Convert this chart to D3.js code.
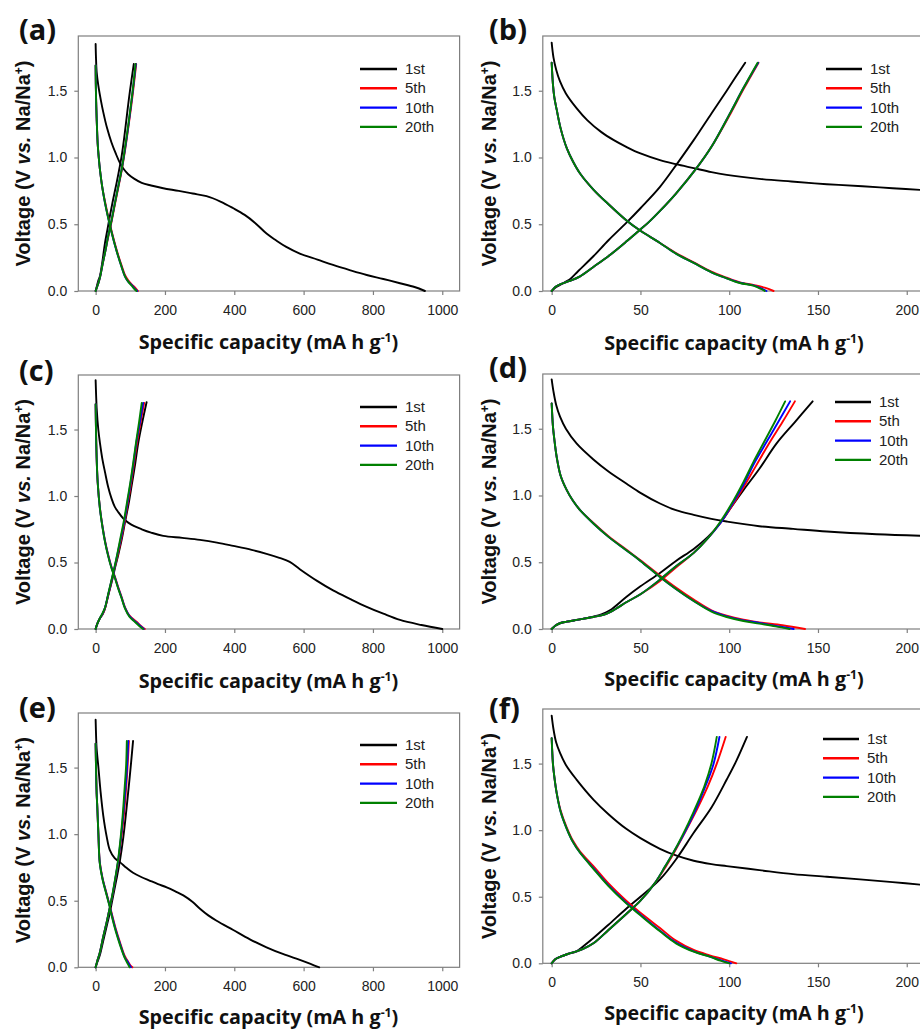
<!DOCTYPE html>
<html><head><meta charset="utf-8">
<script src="https://cdn.jsdelivr.net/npm/d3@7"></script>
<style>body{margin:0;background:#fff}svg{display:block}</style>
</head><body>
<svg id="chart" width="920" height="1030"></svg>
<script>
// ---------- DATA (capacity mA h g-1, voltage V) ----------
const cycleNames = ["1st", "5th", "10th", "20th"];
const cycleColors = ["#000000", "#ff0000", "#0000ff", "#008000"];
const leftTicks = [0, 200, 400, 600, 800, 1000];
const rightTicks = [0, 50, 100, 150, 200];
const voltTicks = [0, 0.5, 1.0, 1.5];

// panel (a)
const a_dis1 = [[0,1.85],[1,1.75],[3,1.64],[7.7,1.54],[15,1.43],[22,1.34],[33,1.22],[46,1.11],[58,1.03],[70,0.96],[82,0.91],[94,0.875],[112,0.84],[133,0.81],[160,0.79],[195,0.77],[240,0.75],[280,0.73],[320,0.71],[360,0.67],[397,0.62],[430,0.57],[460,0.51],[493,0.43],[520,0.38],[550,0.33],[589,0.28],[640,0.235],[685,0.195],[735,0.155],[782,0.12],[830,0.09],[878,0.058],[920,0.03],[950,0]];
const a_chg1 = [[0,0],[4,0.04],[8,0.08],[12.4,0.11],[20,0.23],[27,0.36],[34,0.46],[41,0.56],[50,0.68],[60.5,0.81],[68,0.91],[75,1.01],[82,1.14],[89,1.29],[96,1.44],[104,1.59],[110,1.7]];
const a_dis5 = [[0,1.69],[0.5,1.55],[1.5,1.42],[3,1.29],[6,1.1],[9,1.0],[12.4,0.91],[19,0.78],[27,0.67],[36,0.56],[46,0.45],[55,0.36],[65,0.27],[75,0.19],[84.5,0.12],[94,0.08],[104,0.05],[114,0.025],[122,0]];
const a_chg5 = [[0,0],[4,0.03],[8,0.06],[12.4,0.1],[20,0.2],[28,0.3],[36,0.4],[46,0.52],[55.7,0.65],[65,0.77],[75,0.9],[84,1.04],[94,1.22],[103,1.39],[110,1.54],[117,1.7]];
const a_dis10 = [[0,1.69],[0.5,1.55],[1.5,1.42],[3,1.29],[6,1.1],[9,1.0],[12.4,0.91],[19,0.78],[27,0.66],[36,0.55],[46,0.44],[55,0.35],[65,0.26],[75,0.18],[84.5,0.11],[94,0.07],[104,0.045],[112,0.02],[120,0]];
const a_chg10 = [[0,0],[4,0.03],[8,0.06],[12.4,0.1],[20,0.2],[28,0.3],[36,0.41],[46,0.53],[55.7,0.66],[65,0.78],[75,0.91],[84,1.05],[94,1.23],[102,1.39],[109,1.54],[116,1.7]];
const a_dis20 = [[0,1.69],[0.5,1.55],[1.5,1.42],[3,1.29],[6,1.1],[9,1.0],[12.4,0.91],[19,0.78],[27,0.66],[36,0.55],[46,0.44],[55,0.35],[65,0.26],[75,0.18],[84.5,0.11],[94,0.07],[104,0.04],[112,0.015],[118,0]];
const a_chg20 = [[0,0],[4,0.03],[8,0.06],[12.4,0.1],[20,0.2],[28,0.3],[36,0.41],[46,0.53],[55.7,0.66],[65,0.78],[75,0.91],[84,1.06],[94,1.24],[102,1.4],[109,1.55],[115,1.7]];

// panel (b)
const b_dis1 = [[0,1.86],[1,1.75],[2.5,1.66],[4.7,1.57],[8,1.48],[14,1.37],[20,1.28],[28,1.19],[35,1.13],[42,1.08],[50,1.03],[61,0.98],[70,0.95],[80,0.92],[90,0.89],[98.6,0.87],[117,0.84],[135,0.82],[155,0.80],[175,0.785],[192,0.77],[210,0.755]];
const b_chg1 = [[0,0],[2,0.025],[4.7,0.045],[8,0.07],[10.3,0.088],[15,0.15],[23.5,0.26],[32,0.38],[42,0.51],[50,0.62],[61,0.78],[71,0.96],[80,1.13],[90,1.33],[98.6,1.5],[104,1.61],[109,1.71]];
const b_dis5 = [[0,1.71],[0.7,1.55],[1.5,1.45],[2.8,1.36],[5,1.22],[8.5,1.07],[12,0.97],[16,0.88],[23.5,0.76],[32,0.65],[42,0.53],[49,0.46],[61,0.36],[70,0.285],[80,0.215],[90,0.145],[98.6,0.1],[106,0.065],[113.6,0.045],[120,0.025],[125,0]];
const b_chg5 = [[0,0],[2,0.03],[4.7,0.05],[10,0.075],[16,0.11],[23.5,0.18],[32.8,0.27],[42,0.37],[49,0.45],[55,0.52],[61,0.6],[70,0.73],[81.6,0.92],[90,1.08],[100.8,1.33],[108,1.51],[116.5,1.71]];
const b_dis10 = [[0,1.71],[0.7,1.55],[1.5,1.45],[2.8,1.36],[5,1.22],[8.5,1.07],[12,0.97],[16,0.88],[23.5,0.76],[32,0.65],[42,0.53],[49,0.46],[61,0.36],[70,0.28],[80,0.21],[90,0.14],[98.6,0.095],[106,0.062],[113.6,0.042],[118,0.02],[121,0]];
const b_chg10 = [[0,0],[2,0.03],[4.7,0.05],[10,0.075],[16,0.11],[23.5,0.18],[32.8,0.27],[42,0.37],[49,0.45],[55,0.52],[61,0.6],[70,0.73],[81.6,0.92],[90,1.08],[100.8,1.34],[108,1.52],[116.3,1.71]];
const b_dis20 = [[0,1.71],[0.7,1.55],[1.5,1.45],[2.8,1.36],[5,1.22],[8.5,1.07],[12,0.97],[16,0.88],[23.5,0.76],[32,0.65],[42,0.53],[49,0.46],[61,0.36],[70,0.28],[80,0.21],[90,0.14],[98.6,0.095],[106,0.06],[113.6,0.04],[118,0.015],[120,0]];
const b_chg20 = [[0,0],[2,0.03],[4.7,0.05],[10,0.075],[16,0.11],[23.5,0.18],[32.8,0.27],[42,0.37],[49,0.45],[55,0.52],[61,0.6],[70,0.73],[81.6,0.92],[90,1.08],[100.8,1.34],[108,1.52],[116,1.71]];

// panel (c)
const c_dis1 = [[0,1.87],[1.5,1.75],[3,1.66],[7.7,1.5],[12.4,1.40],[20,1.27],[27,1.18],[36,1.07],[46,0.98],[55,0.92],[65,0.88],[80,0.83],[94,0.80],[110,0.775],[133,0.75],[160,0.725],[195,0.70],[250,0.685],[301,0.67],[350,0.65],[397,0.625],[450,0.595],[493,0.565],[530,0.535],[560,0.505],[589,0.45],[640,0.36],[685,0.29],[735,0.225],[782,0.167],[830,0.115],[878,0.068],[940,0.03],[1000,0]];
const c_chg1 = [[0,0],[5,0.04],[12.4,0.08],[20,0.11],[27,0.155],[36,0.25],[46,0.35],[55,0.45],[65,0.555],[75,0.67],[84.5,0.80],[95,0.94],[104,1.08],[114,1.24],[123,1.40],[135,1.56],[147,1.705]];
const c_dis5 = [[0,1.69],[1,1.5],[3,1.28],[6,1.1],[12.4,0.91],[20,0.77],[27,0.665],[36,0.56],[46,0.465],[56,0.39],[65,0.315],[75,0.24],[84.5,0.165],[98,0.1],[118,0.055],[130,0.025],[142,0]];
const c_chg5 = [[0,0],[5,0.04],[12,0.08],[20,0.11],[27,0.155],[36,0.25],[45,0.35],[54,0.45],[64,0.56],[74,0.68],[84,0.81],[93,0.95],[102,1.09],[111,1.25],[120,1.41],[130,1.56],[140,1.7]];
const c_dis10 = [[0,1.69],[1,1.5],[3,1.28],[6,1.1],[12.4,0.905],[20,0.765],[27,0.66],[36,0.555],[46,0.46],[56,0.385],[65,0.31],[75,0.235],[84.5,0.16],[98,0.095],[115,0.055],[128,0.025],[139,0]];
const c_chg10 = [[0,0],[5,0.04],[12,0.08],[20,0.115],[27,0.16],[36,0.255],[45,0.355],[54,0.455],[63,0.565],[73,0.685],[83,0.815],[92,0.955],[101,1.1],[110,1.26],[118,1.41],[128,1.56],[137,1.7]];
const c_dis20 = [[0,1.69],[1,1.5],[3,1.28],[6,1.1],[12.4,0.905],[20,0.76],[27,0.655],[36,0.55],[46,0.455],[56,0.38],[65,0.305],[75,0.23],[84.5,0.155],[98,0.09],[113,0.055],[125,0.025],[137,0]];
const c_chg20 = [[0,0],[5,0.04],[12,0.08],[20,0.12],[27,0.16],[36,0.26],[45,0.36],[54,0.46],[63,0.57],[72,0.69],[82,0.82],[91,0.96],[100,1.1],[109,1.26],[117,1.41],[125,1.55],[133,1.7]];

// panel (d)
const d_dis1 = [[0,1.87],[1,1.78],[2.5,1.68],[4.7,1.59],[8,1.5],[14,1.39],[23.5,1.27],[32,1.18],[42,1.09],[50,1.02],[61,0.94],[70,0.89],[80,0.855],[90,0.825],[98.6,0.805],[117,0.77],[136,0.75],[155,0.73],[183,0.71],[210,0.698]];
const d_chg1 = [[0,0],[2,0.025],[5,0.045],[8.5,0.055],[15,0.07],[23.5,0.093],[28,0.11],[32.8,0.14],[42,0.24],[50,0.32],[61,0.42],[70,0.51],[80,0.6],[88,0.69],[94.8,0.79],[101,0.91],[108,1.04],[117,1.2],[126.7,1.39],[137,1.55],[147,1.705]];
const d_dis5 = [[0,1.69],[0.7,1.52],[1.5,1.42],[2.8,1.29],[5,1.15],[8.5,1.04],[12,0.96],[16,0.89],[23.5,0.795],[32,0.695],[42,0.595],[50,0.515],[61,0.4],[70,0.31],[80,0.22],[90,0.14],[98.6,0.1],[108,0.07],[117,0.05],[130,0.028],[142.7,0]];
const d_chg5 = [[0,0],[2,0.025],[5,0.045],[8.5,0.055],[15,0.07],[23.5,0.09],[30,0.11],[36,0.15],[42,0.2],[50,0.26],[61,0.36],[70,0.46],[80,0.57],[88,0.68],[94.8,0.79],[101,0.91],[108,1.06],[115,1.22],[122,1.38],[130,1.55],[137,1.705]];
const d_dis10 = [[0,1.69],[0.7,1.52],[1.5,1.42],[2.8,1.29],[5,1.15],[8.5,1.04],[12,0.96],[16,0.89],[23.5,0.79],[32,0.69],[42,0.59],[50,0.51],[61,0.39],[70,0.3],[80,0.21],[90,0.135],[98.6,0.095],[108,0.065],[117,0.045],[127,0.022],[136.3,0]];
const d_chg10 = [[0,0],[2,0.025],[5,0.045],[8.5,0.055],[15,0.07],[23.5,0.09],[30,0.11],[36,0.15],[42,0.2],[50,0.26],[61,0.37],[70,0.47],[80,0.57],[88,0.68],[94.8,0.79],[101,0.92],[108,1.08],[114,1.24],[121,1.4],[128,1.56],[134.3,1.705]];
const d_dis20 = [[0,1.69],[0.7,1.52],[1.5,1.42],[2.8,1.29],[5,1.15],[8.5,1.04],[12,0.96],[16,0.89],[23.5,0.79],[32,0.69],[42,0.59],[50,0.51],[61,0.39],[70,0.3],[80,0.21],[90,0.13],[98.6,0.09],[108,0.06],[117,0.04],[126,0.02],[134,0]];
const d_chg20 = [[0,0],[2,0.025],[5,0.045],[8.5,0.055],[15,0.07],[23.5,0.09],[30,0.11],[36,0.15],[42,0.2],[50,0.26],[61,0.37],[70,0.47],[80,0.57],[88,0.68],[94.8,0.8],[101,0.93],[108,1.1],[113.6,1.25],[120,1.41],[126,1.56],[131.5,1.705]];

// panel (e)
const e_dis1 = [[0,1.86],[1.5,1.72],[3,1.64],[7.7,1.51],[15,1.3],[22,1.14],[32,0.98],[41,0.88],[55,0.82],[70,0.79],[90,0.745],[108,0.71],[130,0.68],[157,0.65],[180,0.625],[205,0.60],[230,0.57],[253,0.54],[280,0.49],[301,0.44],[325,0.39],[349,0.35],[397,0.28],[445,0.21],[493,0.15],[540,0.10],[589,0.055],[620,0.025],[645,0]];
const e_chg1 = [[0,0],[5,0.04],[12,0.09],[22,0.2],[32,0.31],[41,0.41],[50,0.53],[60,0.66],[70,0.8],[80,0.98],[89,1.19],[98,1.42],[108,1.7]];
const e_dis5 = [[0,1.68],[1.5,1.45],[3,1.3],[4.7,1.21],[8,1.0],[12,0.79],[20,0.67],[32,0.55],[41,0.46],[46,0.41],[58,0.29],[70,0.19],[84,0.085],[94,0.04],[100,0.015],[106,0]];
const e_chg5 = [[0,0],[5,0.05],[12,0.11],[22,0.23],[32,0.34],[41,0.45],[50,0.56],[58,0.68],[65,0.79],[72,0.93],[79,1.08],[86,1.28],[91,1.46],[96,1.7]];
const e_dis10 = [[0,1.68],[1.5,1.45],[3,1.3],[4.7,1.21],[8,1.0],[12,0.785],[20,0.665],[32,0.545],[41,0.455],[46,0.4],[58,0.28],[70,0.18],[84,0.075],[94,0.035],[99,0.012],[102,0]];
const e_chg10 = [[0,0],[5,0.05],[12,0.11],[22,0.23],[32,0.34],[41,0.45],[50,0.565],[58,0.685],[65,0.8],[72,0.95],[78,1.1],[85,1.31],[90,1.48],[94,1.7]];
const e_dis20 = [[0,1.68],[1.5,1.45],[3,1.3],[4.7,1.21],[8,1.0],[12,0.78],[20,0.66],[32,0.54],[41,0.45],[46,0.39],[58,0.27],[70,0.17],[84,0.07],[92,0.03],[98,0]];
const e_chg20 = [[0,0],[5,0.05],[12,0.11],[22,0.23],[32,0.34],[41,0.45],[50,0.57],[58,0.69],[65,0.81],[72,0.97],[78,1.14],[84,1.36],[88,1.52],[90,1.7]];

// panel (f)
const f_dis1 = [[0,1.86],[1,1.76],[2.5,1.66],[4.7,1.58],[8,1.49],[14,1.38],[23.5,1.23],[32,1.12],[42,1.01],[50,0.94],[61,0.86],[70,0.81],[80,0.77],[90,0.745],[98.6,0.73],[117,0.70],[136,0.67],[155,0.65],[173.7,0.63],[192,0.61],[210,0.588]];
const f_chg1 = [[0,0],[2,0.03],[5,0.05],[9,0.07],[14,0.09],[18,0.13],[23.5,0.19],[32,0.29],[42,0.41],[50,0.5],[61,0.63],[70,0.78],[80,0.98],[90,1.17],[98.6,1.38],[104,1.52],[110,1.70]];
const f_dis5 = [[0,1.69],[0.7,1.5],[1.5,1.4],[2.8,1.28],[5,1.15],[8.5,1.02],[12,0.92],[16,0.84],[23.5,0.73],[32,0.6],[42,0.47],[50,0.38],[61,0.265],[70,0.17],[80,0.1],[89,0.06],[97,0.03],[104,0]];
const f_chg5 = [[0,0],[2,0.03],[5,0.05],[9,0.07],[14,0.09],[18,0.11],[23.5,0.15],[32,0.25],[42,0.37],[50,0.47],[58,0.6],[64,0.72],[68.5,0.82],[75,0.98],[82,1.16],[88,1.33],[93,1.5],[98,1.7]];
const f_dis10 = [[0,1.69],[0.7,1.5],[1.5,1.4],[2.8,1.28],[5,1.14],[8.5,1.01],[12,0.91],[16,0.83],[23.5,0.715],[32,0.585],[42,0.455],[50,0.365],[61,0.245],[70,0.155],[80,0.09],[89,0.05],[96,0.02],[101,0]];
const f_chg10 = [[0,0],[2,0.03],[5,0.05],[9,0.07],[14,0.09],[18,0.11],[23.5,0.15],[32,0.25],[42,0.37],[50,0.47],[58,0.6],[64,0.73],[68.5,0.83],[74,0.96],[80,1.12],[86,1.31],[91,1.49],[94.5,1.7]];
const f_dis20 = [[0,1.69],[0.7,1.5],[1.5,1.4],[2.8,1.28],[5,1.14],[8.5,1.01],[12,0.91],[16,0.83],[23.5,0.71],[32,0.58],[42,0.45],[50,0.36],[61,0.24],[70,0.15],[80,0.087],[89,0.05],[95,0.02],[100,0]];
const f_chg20 = [[0,0],[2,0.03],[5,0.05],[9,0.07],[14,0.09],[18,0.11],[23.5,0.15],[32,0.25],[42,0.37],[50,0.47],[58,0.6],[64,0.73],[68.5,0.83],[74,0.97],[80,1.14],[86,1.33],[90,1.5],[93,1.7]];

// ---------- LAYOUT ----------
const L = {xDomain: [-50, 1050], xRange: [78.3, 459.6], ticks: leftTicks, xlabX: 268.5, ylabX: 23, letterX: 19, leg: [360, 397, 405]};
const R = {xDomain: [-5, 210], xRange: [542.8, 924.5], ticks: rightTicks, xlabX: 734, ylabX: 489, letterX: 489, leg: [826, 862, 870]};

const panels = [
  {col: L, letter: "(a)", top: 36, bottom: 291, letterY: 40, xlabY: 349, legY: 69,
   series: [[a_dis1, a_chg1], [a_dis5, a_chg5], [a_dis10, a_chg10], [a_dis20, a_chg20]]},
  {col: R, letter: "(b)", top: 36, bottom: 291, letterY: 40, xlabY: 350, legY: 69,
   series: [[b_dis1, b_chg1], [b_dis5, b_chg5], [b_dis10, b_chg10], [b_dis20, b_chg20]]},
  {col: L, letter: "(c)", top: 375, bottom: 629, letterY: 381, xlabY: 688, legY: 407,
   series: [[c_dis1, c_chg1], [c_dis5, c_chg5], [c_dis10, c_chg10], [c_dis20, c_chg20]]},
  {col: R, letter: "(d)", top: 374, bottom: 629, letterY: 378, xlabY: 686, legY: 402, legDx: 9,
   series: [[d_dis1, d_chg1], [d_dis5, d_chg5], [d_dis10, d_chg10], [d_dis20, d_chg20]]},
  {col: L, letter: "(e)", top: 713, bottom: 967.3, letterY: 718, xlabY: 1024, legY: 745,
   series: [[e_dis1, e_chg1], [e_dis5, e_chg5], [e_dis10, e_chg10], [e_dis20, e_chg20]]},
  {col: R, letter: "(f)", top: 709, bottom: 963.3, letterY: 719, xlabY: 1020, legY: 739, legDx: -3,
   series: [[f_dis1, f_chg1], [f_dis5, f_chg5], [f_dis10, f_chg10], [f_dis20, f_chg20]]}
];

const svg = d3.select("#chart");
const frameColor = "#7f7f7f";
const tickFont = "'Liberation Sans', Arial, sans-serif";
const boldFont = "'Open Sans', 'Segoe UI', sans-serif";

function fitText(sel, target) {
  const n = sel.node();
  const len = n.getComputedTextLength();
  const fs = parseFloat(sel.attr("font-size"));
  sel.attr("font-size", (fs * target / len).toFixed(2));
}

panels.forEach((p, pi) => {
  const c = p.col;
  const x = d3.scaleLinear().domain(c.xDomain).range(c.xRange);
  const yTopVal = 1.91;
  const y = d3.scaleLinear().domain([0, yTopVal]).range([p.bottom, p.top]);
  const g = svg.append("g");

  // frame
  g.append("rect")
    .attr("x", c.xRange[0]).attr("y", p.top)
    .attr("width", c.xRange[1] - c.xRange[0]).attr("height", p.bottom - p.top)
    .attr("fill", "none").attr("stroke", frameColor).attr("stroke-width", 1.2);

  // x axis
  const xa = g.append("g").attr("transform", `translate(0,${p.bottom})`)
    .call(d3.axisBottom(x).tickValues(c.ticks).tickSize(4).tickPadding(10).tickFormat(d3.format("d")));
  xa.select(".domain").remove();
  xa.selectAll("line").attr("stroke", frameColor).attr("stroke-width", 1.2);
  xa.selectAll("text").attr("font-family", tickFont).attr("font-size", 14).attr("fill", "#222");

  // y axis
  const ya = g.append("g").attr("transform", `translate(${c.xRange[0]},0)`)
    .call(d3.axisLeft(y).tickValues(voltTicks).tickSize(4).tickPadding(7).tickFormat(d3.format(".1f")));
  ya.select(".domain").remove();
  ya.selectAll("line").attr("stroke", frameColor).attr("stroke-width", 1.2);
  ya.selectAll("text").attr("font-family", tickFont).attr("font-size", 14).attr("fill", "#222");

  // curves
  const line = d3.line().x(d => x(d[0])).y(d => y(d[1])).curve(d3.curveCatmullRom.alpha(0.5));
  p.series.forEach((pair, si) => {
    pair.forEach(arr => {
      g.append("path").attr("d", line(arr)).attr("fill", "none")
        .attr("stroke", cycleColors[si]).attr("stroke-width", 1.9)
        .attr("stroke-linejoin", "round").attr("stroke-linecap", "round");
    });
  });

  // legend
  const dx = p.legDx || 0;
  cycleNames.forEach((name, i) => {
    const ly = p.legY + i * 19.3;
    g.append("line").attr("x1", c.leg[0] + dx).attr("x2", c.leg[1] + dx)
      .attr("y1", ly).attr("y2", ly).attr("stroke", cycleColors[i]).attr("stroke-width", 2.4);
    g.append("text").attr("x", c.leg[2] + dx).attr("y", ly + 5)
      .attr("font-family", tickFont).attr("font-size", 15).attr("fill", "#222").text(name);
  });

  // panel letter
  g.append("text").attr("x", c.letterX).attr("y", p.letterY)
    .attr("font-family", boldFont).attr("font-weight", 700).attr("font-size", 29)
    .attr("fill", "#111").text(p.letter);

  // x label
  const xl = g.append("text").attr("x", c.xlabX).attr("y", p.xlabY).attr("text-anchor", "middle")
    .attr("font-family", boldFont).attr("font-weight", 700).attr("font-size", 17).attr("fill", "#111");
  xl.append("tspan").text("Specific capacity (mA h g");
  xl.append("tspan").attr("dy", -7).attr("font-size", 11).text("-1");
  xl.append("tspan").attr("dy", 7).text(")");
  fitText(xl, 260);
  xl.select("tspan:nth-child(2)").attr("font-size", parseFloat(xl.attr("font-size")) * 0.62);

  // y label
  const ymid = (p.top + p.bottom) / 2;
  const yl = g.append("text").attr("transform", `translate(${c.ylabX + 7},${ymid}) rotate(-90)`)
    .attr("text-anchor", "middle")
    .attr("font-family", tickFont).attr("font-weight", 700).attr("font-size", 18).attr("fill", "#111");
  yl.append("tspan").text("Voltage (V ");
  yl.append("tspan").attr("font-style", "italic").text("vs.");
  yl.append("tspan").text(" Na/Na");
  yl.append("tspan").attr("dy", -7).attr("font-size", 12).text("+");
  yl.append("tspan").attr("dy", 7).text(")");
  fitText(yl, 207);
});
</script>
</body></html>
